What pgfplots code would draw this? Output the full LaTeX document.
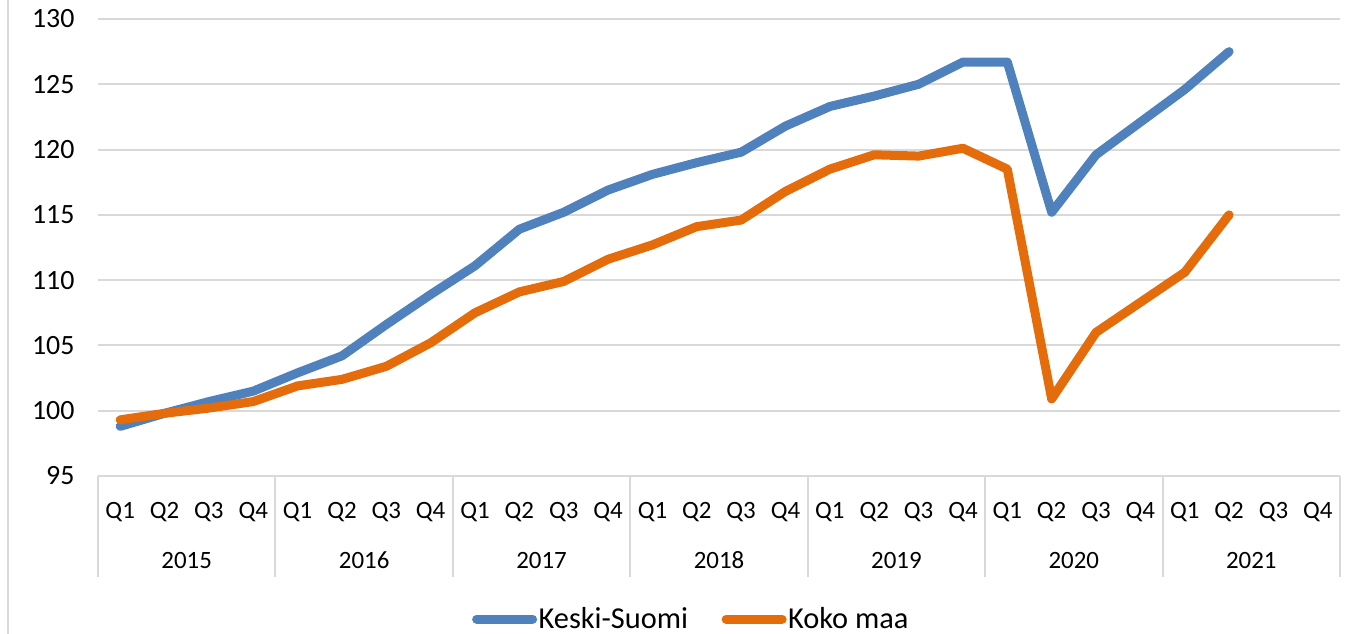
\documentclass[border=0pt]{standalone}
\usepackage{fontspec}
\setmainfont{Carlito}
\usepackage{pgfplots}
\pgfplotsset{compat=1.18}
\definecolor{ksblue}{RGB}{79,129,189}
\definecolor{kmorange}{RGB}{228,108,10}
\definecolor{gridgray}{RGB}{217,217,217}

\begin{document}
\begin{tikzpicture}[x=1bp,y=1bp]
\useasboundingbox (0,0) rectangle (1345,634);
\draw[gridgray, line width=2bp] (7.5,0) -- (7.5,634);
\begin{axis}[
  at={(98bp,158bp)}, anchor=south west,
  scale only axis, width=1242bp, height=457bp,
  xmin=0, xmax=28, ymin=95, ymax=130,
  ytick={95,100,...,130},
  ymajorgrids, grid style={gridgray, line width=2bp},
  axis x line*=bottom, axis y line*=left,
  x axis line style={gridgray, line width=2bp, -},
  y axis line style={draw=none},
  xtick={0.5,1.5,...,27.5},
  xticklabels={Q1,Q2,Q3,Q4,Q1,Q2,Q3,Q4,Q1,Q2,Q3,Q4,Q1,Q2,Q3,Q4,Q1,Q2,Q3,Q4,Q1,Q2,Q3,Q4,Q1,Q2,Q3,Q4},
  major tick length=0pt,
  tick style={draw=none},
  /pgf/number format/assume math mode=true,
  yticklabel style={font=\fontsize{28}{32}\selectfont, anchor=east, xshift=-20bp},
  xticklabel style={font=\fontsize{25}{30}\selectfont, anchor=center, yshift=-35bp, text height=17bp, text depth=2bp},
  extra x ticks={0,4,...,28},
  extra x tick labels={},
  extra x tick style={major tick length=101bp, tick align=outside, tick style={draw=gridgray, line width=2bp}, grid=none},
  clip=false,
  legend columns=2,
  legend style={at={(0.4775,-0.313)}, anchor=center, draw=none, fill=none,
    font=\fontsize{30.5}{35}\selectfont, inner sep=0pt,
    nodes={inner sep=1.5bp},
    /tikz/every even column/.append style={column sep=32bp}},
  legend image code/.code={\draw[#1, line width=9bp, line cap=round] (4.5bp,0bp) -- (60.5bp,0bp);},
  every axis plot/.append style={line width=9bp, line join=round, line cap=round, mark=none},
]
\addplot[ksblue] coordinates {
(0.5,98.8) (1.5,99.8) (2.5,100.7) (3.5,101.5) (4.5,102.9) (5.5,104.2)
(6.5,106.6) (7.5,108.9) (8.5,111.1) (9.5,113.9) (10.5,115.2) (11.5,116.9)
(12.5,118.1) (13.5,119.0) (14.5,119.8) (15.5,121.8) (16.5,123.3) (17.5,124.1)
(18.5,125.0) (19.5,126.7) (20.5,126.7) (21.5,115.2) (22.5,119.6) (23.5,122.1)
(24.5,124.6) (25.5,127.5)
};
\addlegendentry{Keski-Suomi}
\addplot[kmorange] coordinates {
(0.5,99.3) (1.5,99.8) (2.5,100.2) (3.5,100.7) (4.5,101.9) (5.5,102.4)
(6.5,103.4) (7.5,105.2) (8.5,107.5) (9.5,109.1) (10.5,109.9) (11.5,111.6)
(12.5,112.7) (13.5,114.1) (14.5,114.6) (15.5,116.8) (16.5,118.5) (17.5,119.6)
(18.5,119.5) (19.5,120.1) (20.5,118.5) (21.5,100.9) (22.5,106.0) (23.5,108.3)
(24.5,110.6) (25.5,115.0)
};
\addlegendentry{Koko maa}
\foreach \i/\yr in {2/2015,6/2016,10/2017,14/2018,18/2019,22/2020,26/2021}{
  \edef\temp{\noexpand\node[font=\noexpand\fontsize{25}{30}\noexpand\selectfont, anchor=center, text height=17bp, text depth=0bp] at ([yshift=-84.5bp]axis cs:\i,95) {\yr};}
  \temp
}
\end{axis}
\end{tikzpicture}
\end{document}
